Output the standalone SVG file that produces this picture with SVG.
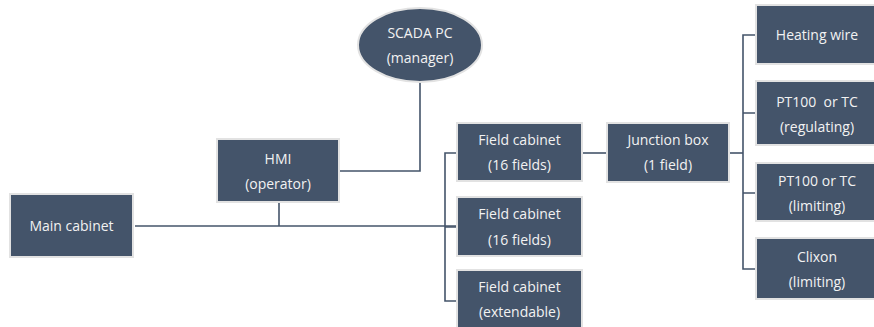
<svg xmlns="http://www.w3.org/2000/svg" width="874" height="327" viewBox="0 0 874 327">
<style>
.n{fill:#44546a;stroke:#e2e2e2;stroke-width:2}
.t{font-family:"Open Sans",sans-serif;font-size:14px;fill:#f2f2f2;text-anchor:middle;dominant-baseline:central}
.c{fill:none;stroke:#44546a;stroke-width:1.6}
</style>
<rect width="874" height="327" fill="#ffffff"/>
<g id="connectors">
<path class="c" d="M135 226H456" stroke-width="2.2"/>
<path class="c" d="M279 202V226"/>
<path class="c" d="M339 171H420V82"/>
<path class="c" d="M456 153H445V301H456M445 227H456"/>
<path class="c" d="M582 153H607"/>
<path class="c" d="M729 153H743"/>
<path class="c" d="M756 35H743V269H756M743 113H756M743 193H756"/>
</g>
<g id="main"><rect class="n" x="10" y="194" width="123" height="63"/><text class="t" x="71.5" y="225.5">Main cabinet</text></g>
<g id="hmi"><rect class="n" x="217" y="139" width="122" height="63"/><text class="t" x="278" y="158.5">HMI</text><text class="t" x="278" y="183.5">(operator)</text></g>
<g id="scada"><ellipse class="n" cx="420" cy="45" rx="62" ry="37" stroke-width="1.5"/><text class="t" x="420" y="32">SCADA PC</text><text class="t" x="420" y="57">(manager)</text></g>
<g id="fc1"><rect class="n" x="457" y="123" width="125" height="58"/><text class="t" x="519.5" y="139">Field cabinet</text><text class="t" x="519.5" y="164">(16 fields)</text></g>
<g id="fc2"><rect class="n" x="457" y="197" width="125" height="59"/><text class="t" x="519.5" y="213">Field cabinet</text><text class="t" x="519.5" y="239">(16 fields)</text></g>
<g id="fc3"><rect class="n" x="457" y="270" width="125" height="58"/><text class="t" x="519.5" y="286">Field cabinet</text><text class="t" x="519.5" y="311">(extendable)</text></g>
<g id="jb"><rect class="n" x="607" y="123" width="122" height="59"/><text class="t" x="668" y="139.5">Junction box</text><text class="t" x="668" y="164">(1 field)</text></g>
<g id="heat"><rect class="n" x="756" y="5" width="122" height="59"/><text class="t" x="817" y="34.5">Heating wire</text></g>
<g id="pt1"><rect class="n" x="756" y="81" width="122" height="64"/><text class="t" x="817" y="101" style="white-space:pre">PT100  or TC</text><text class="t" x="817" y="126">(regulating)</text></g>
<g id="pt2"><rect class="n" x="756" y="163" width="122" height="58"/><text class="t" x="817" y="180">PT100 or TC</text><text class="t" x="817" y="205">(limiting)</text></g>
<g id="clixon"><rect class="n" x="756" y="238" width="122" height="61"/><text class="t" x="817" y="256">Clixon</text><text class="t" x="817" y="281">(limiting)</text></g>
</svg>
